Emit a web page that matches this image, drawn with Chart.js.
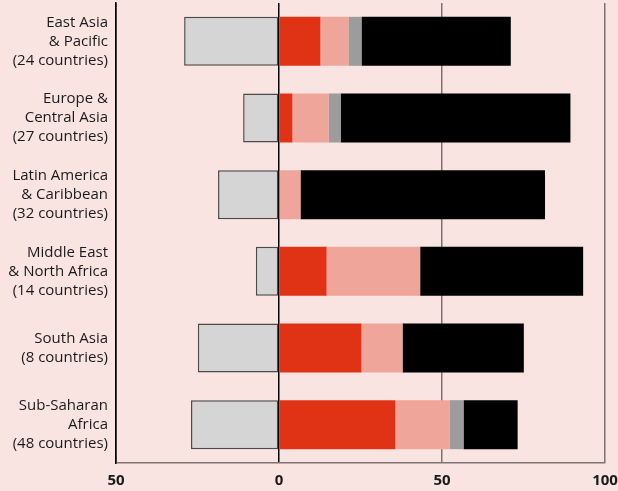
<!DOCTYPE html>
<html>
<head>
<meta charset="utf-8">
<script src="https://cdn.jsdelivr.net/npm/chart.js@4"></script>
<style>
  html, body { margin: 0; padding: 0; background: #fae4e2; }
  #wrap { width: 618px; height: 491px; }
</style>
</head>
<body>
<div id="wrap"><canvas id="regionChart"></canvas></div>
<script>
const regions = [
  ["East Asia", "& Pacific", "(24 countries)"],
  ["Europe &", "Central Asia", "(27 countries)"],
  ["Latin America", "& Caribbean", "(32 countries)"],
  ["Middle East", "& North Africa", "(14 countries)"],
  ["South Asia", "(8 countries)"],
  ["Sub-Saharan", "Africa", "(48 countries)"]
];
// left-hand (negative) share
const negShare = [-29.1, -11.0, -18.7, -7.1, -24.9, -27.0];
// right-hand stacked shares
const redShare = [12.7, 4.1, 0, 14.6, 25.3, 35.7];
const pinkShare = [8.6, 11.1, 6.6, 28.7, 12.6, 16.6];
const greyShare = [4.0, 3.7, 0, 0, 0, 4.3];
const blackShare = [45.8, 70.5, 75.0, 50.0, 37.2, 16.6];
const xTicks = [-50, 0, 50, 100];

const ctx = document.getElementById("regionChart").getContext("2d");

new Chart(ctx, {
  type: "bar",
  data: {
    labels: regions,
    datasets: [
      { data: negShare, backgroundColor: "#d5d5d5", borderColor: "#4a4a4a", borderWidth: 1.5, borderSkipped: false },
      { data: redShare, backgroundColor: "#e03316" },
      { data: pinkShare, backgroundColor: "#f0a59a" },
      { data: greyShare, backgroundColor: "#9c9c9c" },
      { data: blackShare, backgroundColor: "#000000" }
    ]
  },
  options: {
    indexAxis: "y",
    responsive: true,
    maintainAspectRatio: false,
    animation: false,
    layout: { padding: { top: 3, right: 13, left: 0, bottom: 0 } },
    datasets: { bar: { barPercentage: 0.9, categoryPercentage: 0.71 } },
    plugins: { legend: { display: false }, tooltip: { enabled: false } },
    scales: {
      x: {
        stacked: true,
        min: -50,
        max: 100,
        afterBuildTicks: (scale) => { scale.ticks = xTicks.map(v => ({ value: v })); },
        grid: {
          drawTicks: false,
          lineWidth: 1.5,
          color: (c) => (c.tick && (c.tick.value === 0 || c.tick.value === -50)) ? "#000" : "#7d7373"
        },
        border: { display: true, color: "#7d7373", width: 1.5 },
        ticks: {
          padding: 9,
          color: "#1a1a1a",
          font: { family: "Open Sans", size: 15, weight: "bold" },
          callback: (v) => Math.abs(v)
        },
        afterFit: (s) => { s.height = 28; s.paddingLeft = 0; s.paddingRight = 0; }
      },
      y: {
        stacked: true,
        grid: { display: false, drawTicks: false, tickLength: 0 },
        border: { display: true, color: "#000", width: 1.5 },
        ticks: {
          padding: 8,
          color: "#1a1a1a",
          font: { family: "Open Sans", size: 15, lineHeight: 1.27 }
        },
        afterFit: (s) => { s.width = 116; s.paddingTop = 0; s.paddingBottom = 0; }
      }
    }
  }
});
</script>
</body>
</html>
